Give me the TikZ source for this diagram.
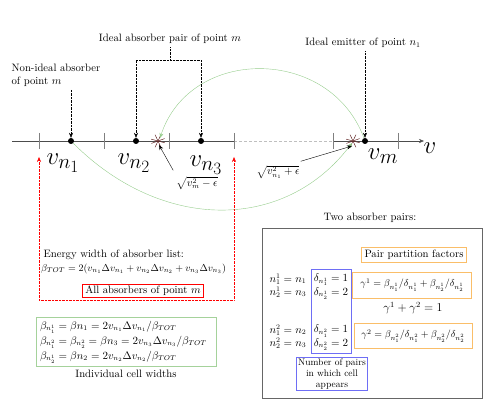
\documentclass[tikz,border=0pt]{standalone}
\usepackage{amsmath, amssymb}
\usepackage{tikz}
\usetikzlibrary{arrows.meta}
\definecolor{arcgreen}{RGB}{150,205,140}
\definecolor{boxgreen}{RGB}{165,210,155}
\definecolor{boxorange}{RGB}{250,190,105}
\definecolor{boxblue}{RGB}{110,110,245}
\definecolor{crossbrown}{RGB}{100,40,40}

\begin{document}
\begin{tikzpicture}[x=1pt, y=-1pt, font=\fontsize{10.7}{13}\selectfont,
  >={Stealth[length=5pt, width=4pt]},
  tick/.style={gray, line width=0.8pt},
  dot/.style={circle, fill, inner sep=0pt, minimum size=6pt},
  lead/.style={densely dotted, ->},
  crossline/.style={crossbrown, line width=0.5pt},
  vlab/.style={font=\Huge},
  frame/.style={line width=0.8pt}]
  \useasboundingbox (0,0) rectangle (498,403);
  \coordinate (ax0) at (12,141);
  \coordinate (gap0) at (234,141);
  \coordinate (gap1) at (333,141);
  \coordinate (ax1) at (424,141);
  \draw[gray!60!black] (ax0) -- (gap0);
  \draw[gray!50, densely dashed] (gap0) -- (gap1);
  \draw[gray!60!black, ->] (gap1) -- (ax1);
  \node[vlab] (vaxis) at (430,148) {$v$};
  \foreach \x in {39,104,169,234,333,398}
    \draw[tick] (\x,133) -- (\x,149);
  \node[dot] (n1) at (71,141) {};
  \node[dot] (n2) at (136,141) {};
  \node[dot] (n3) at (201,141) {};
  \node[dot] (m) at (365,141) {};
  \node[vlab] (ln1) at (63,163) {$v_{n_1}$};
  \node[vlab] (ln2) at (134,163) {$v_{n_2}$};
  \node[vlab] (ln3) at (206,165) {$v_{n_3}$};
  \node[vlab] (lm) at (383,156) {$v_m$};
  \coordinate (sA) at (158,141);
  \coordinate (sB) at (353,141);
  \foreach \c in {sA,sB}
    \foreach \a in {15,65,115,160}
      \draw[crossline] ([shift={(\a:7)}]\c) -- ([shift={(\a+180:7)}]\c);
  \draw[arcgreen, ->] (n1) .. controls (162,232) and (285,232) .. ([shift={(-1,2)}]sB);
  \draw[arcgreen, ->] ([shift={(-2,-4)}]m) .. controls (330,46) and (190,46) .. ([shift={(2,-3)}]sA);
  \node[font=\fontsize{10.5}{12}\selectfont, inner sep=1pt] (epsm) at (197,183) {$\sqrt{v_m^2-\epsilon}$};
  \draw[->] ([shift={(-2,-5)}]epsm.north west) -- ([shift={(1,4)}]sA);
  \node[font=\fontsize{10.5}{12}\selectfont, inner sep=1pt] (epsn) at (278,172) {$\sqrt{v_{n_1}^2+\epsilon}$};
  \draw[->] ([shift={(0,-3)}]epsn.north east) -- ([shift={(-1,5)}]sB);
  \node (idpair) at (170,39) {Ideal absorber pair of point $m$};
  \coordinate (brk) at (170,60);
  \draw[densely dotted] (idpair) -- (brk);
  \draw[lead] (brk) -| (n2);
  \draw[lead] (brk) -| (n3);
  \node[align=left] (nonid) at (56,75) {Non-ideal absorber\\of point $m$};
  \draw[lead] (n1 |- nonid.south) -- (n1);
  \node (emit) at (363,43) {Ideal emitter of point $n_1$};
  \draw[lead] (m |- emit.south) -- (m);
  \coordinate (rl) at (39,157);
  \coordinate (rr) at (234,157);
  \draw[red, densely dotted, <->] (rl) -- (39,300) -- (234,300) -- (rr);
  \node[anchor=west] (enw) at (40,255) {Energy width of absorber list:};
  \node[anchor=west, inner sep=1pt, font=\fontsize{10.2}{12}\selectfont] (btot) at (40,269)
    {$\beta_{TOT}=2(v_{n_1}\Delta v_{n_1}+v_{n_2}\Delta v_{n_2}+v_{n_3}\Delta v_{n_3})$};
  \node[draw=red, frame, inner xsep=3pt, inner ysep=2pt] (allabs) at (143,291) {All absorbers of point $m$};
  \node[draw=boxgreen, frame, align=left, text width=172pt, minimum height=49pt, inner xsep=4pt,
    inner ysep=1pt, font=\fontsize{10.5}{15}\selectfont] (cells) at (126,342)
    {$\beta_{n_1^1}=\beta n_1=2v_{n_1}\Delta v_{n_1}/\beta_{TOT}$\\
     $\beta_{n_1^2}=\beta_{n_2^2}=\beta n_3=2v_{n_3}\Delta v_{n_3}/\beta_{TOT}$\\
     $\beta_{n_2^1}=\beta n_2=2v_{n_2}\Delta v_{n_2}/\beta_{TOT}$};
  \node (cwid) at (126,374) {Individual cell widths};
  \node (twopairs) at (370,218) {Two absorber pairs:};
  \draw[gray!80!black, frame] (262,228) rectangle (482,398);
  \node[draw=boxorange, frame, inner sep=3pt] (ppf) at (414,255) {Pair partition factors};
  \node[inner sep=0pt] (pr1) at (288,286) {$\begin{array}{@{}r@{}l@{}}n_1^1&{}=n_1\\ n_2^1&{}=n_3\end{array}$};
  \node[inner sep=0pt] (dl1) at (331,286) {$\begin{array}{@{}l@{}}\delta_{n_1^1}=1\\ \delta_{n_2^1}=2\end{array}$};
  \node[inner sep=0pt] (pr2) at (288,337) {$\begin{array}{@{}r@{}l@{}}n_1^2&{}=n_2\\ n_2^2&{}=n_3\end{array}$};
  \node[inner sep=0pt] (dl2) at (331,337) {$\begin{array}{@{}l@{}}\delta_{n_1^2}=1\\ \delta_{n_2^2}=2\end{array}$};
  \draw[boxblue, frame] (311,269) rectangle (351,353);
  \node[draw=boxorange, frame, minimum width=119pt, minimum height=26pt, inner sep=1pt,
    font=\fontsize{10.3}{12}\selectfont] (g1) at (412,285)
    {$\gamma^1=\beta_{n_1^1}/\delta_{n_1^1}+\beta_{n_2^1}/\delta_{n_2^1}$};
  \node[font=\large] (gsum) at (413,308) {$\gamma^1+\gamma^2=1$};
  \node[draw=boxorange, frame, minimum width=118pt, minimum height=25pt, inner sep=1pt,
    font=\fontsize{10.3}{12}\selectfont] (g2) at (413,336)
    {$\gamma^2=\beta_{n_1^2}/\delta_{n_1^2}+\beta_{n_2^2}/\delta_{n_2^2}$};
  \node[draw=boxblue, frame, align=center, font=\fontsize{9.5}{11}\selectfont, inner sep=1.5pt,
    minimum width=70pt] (npairs) at (332,374)
    {Number of pairs\\in which cell\\appears};
\end{tikzpicture}
\end{document}
